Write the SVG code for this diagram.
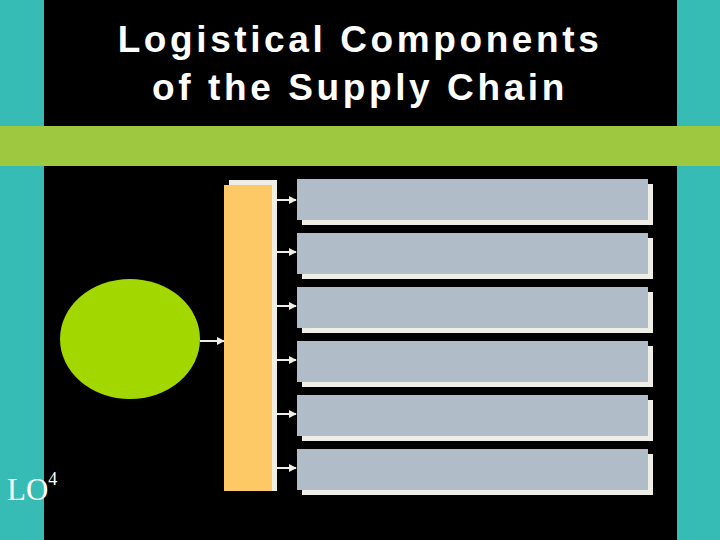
<svg xmlns="http://www.w3.org/2000/svg" width="720" height="540" viewBox="0 0 720 540">
<defs>
<style>
.t{font-family:"Liberation Sans",Arial,sans-serif;font-weight:bold;font-size:37px;letter-spacing:3.6px;fill:#fff;text-anchor:middle}
.box{fill:#b0bcc8}
.sh{fill:#efeee6}
.c{stroke:#efeee6;stroke-width:2;fill:none}
</style>
<marker id="a" viewBox="0 0 10 10" refX="9" refY="5" markerWidth="4" markerHeight="4" orient="auto"><path d="M0,0L10,5L0,10z" fill="#efeee6"/></marker>
</defs>
<rect width="720" height="540" fill="#000"/>
<rect x="0" y="0" width="44" height="540" fill="#36bcb4"/>
<rect x="677" y="0" width="43" height="540" fill="#36bcb4"/>
<rect x="0" y="126" width="720" height="40" fill="#9dc840"/>
<text class="t" x="360" y="52">Logistical Components</text>
<text class="t" x="360" y="100">of the Supply Chain</text>
<g id="circle"><ellipse cx="130" cy="339" rx="70" ry="60" fill="#a2d800"/></g>
<g id="bar"><rect class="sh" x="229" y="180" width="48" height="311"/><rect x="224" y="185" width="48" height="306" fill="#fdc967"/></g>
<g id="b1"><rect class="sh" x="302" y="184" width="351" height="41"/><rect class="box" x="297" y="179" width="351" height="41"/></g>
<g id="b2"><rect class="sh" x="302" y="238" width="351" height="41"/><rect class="box" x="297" y="233" width="351" height="41"/></g>
<g id="b3"><rect class="sh" x="302" y="292" width="351" height="41"/><rect class="box" x="297" y="287" width="351" height="41"/></g>
<g id="b4"><rect class="sh" x="302" y="346" width="351" height="41"/><rect class="box" x="297" y="341" width="351" height="41"/></g>
<g id="b5"><rect class="sh" x="302" y="400" width="351" height="41"/><rect class="box" x="297" y="395" width="351" height="41"/></g>
<g id="b6"><rect class="sh" x="302" y="454" width="351" height="41"/><rect class="box" x="297" y="449" width="351" height="41"/></g>
<g id="connectors">
<line class="c" x1="200" y1="341" x2="224" y2="341" marker-end="url(#a)"/>
<line class="c" x1="277" y1="200" x2="296" y2="200" marker-end="url(#a)"/>
<line class="c" x1="277" y1="252" x2="296" y2="252" marker-end="url(#a)"/>
<line class="c" x1="277" y1="306" x2="296" y2="306" marker-end="url(#a)"/>
<line class="c" x1="277" y1="360" x2="296" y2="360" marker-end="url(#a)"/>
<line class="c" x1="277" y1="414" x2="296" y2="414" marker-end="url(#a)"/>
<line class="c" x1="277" y1="468" x2="296" y2="468" marker-end="url(#a)"/>
</g>
<text x="7" y="500" font-family="Liberation Serif,serif" font-size="31" fill="#fff">LO<tspan font-size="18" dy="-15">4</tspan></text>
</svg>
